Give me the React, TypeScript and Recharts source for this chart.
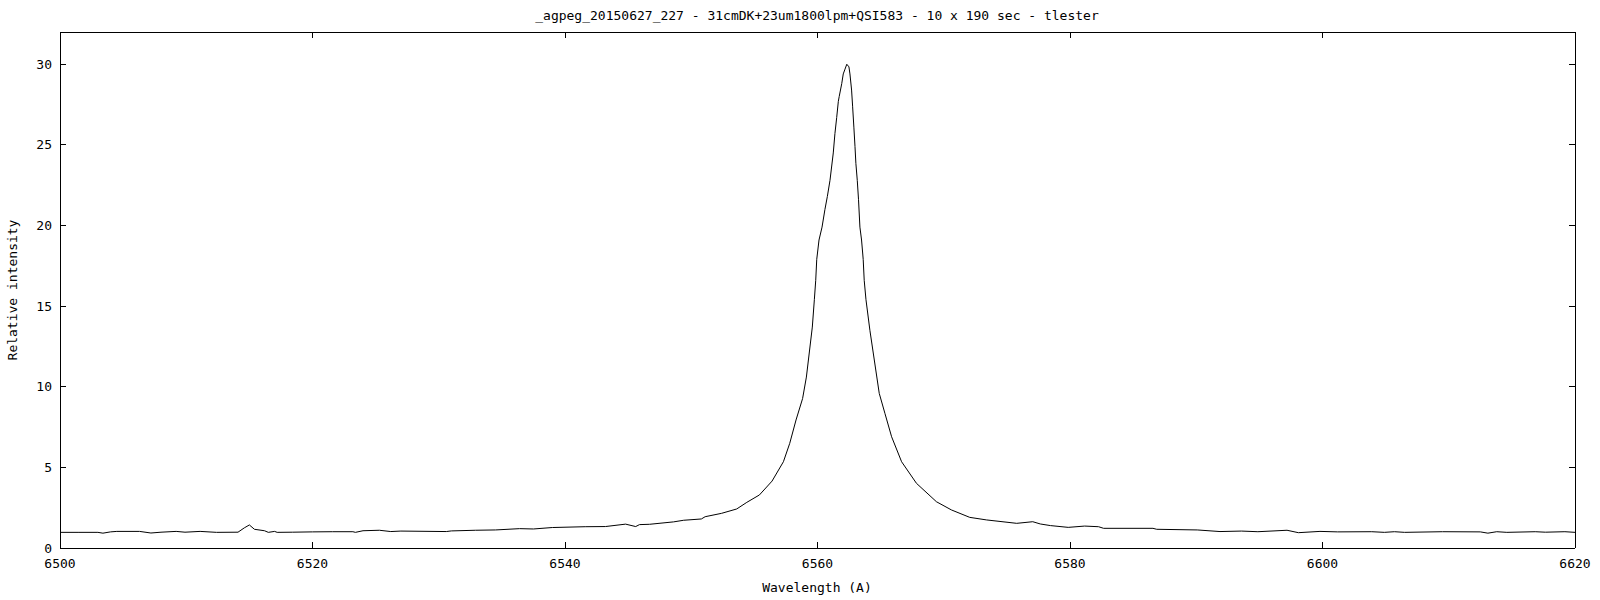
import React from 'react';
import { LineChart, Line, XAxis, YAxis } from 'recharts';

const wavelengths = [
  6500.0, 6501.5, 6503.0, 6503.4, 6504.0, 6504.5, 6506.3, 6507.2, 6508.0, 6509.2,
  6509.9, 6511.1, 6512.4, 6514.1, 6514.6, 6515.0, 6515.4, 6516.2, 6516.5, 6517.0,
  6517.2, 6518.4, 6520.0, 6521.6, 6523.2, 6523.4, 6524.0, 6525.3, 6526.2, 6527.0,
  6530.6, 6531.0, 6532.9, 6534.5, 6536.4, 6537.5, 6539.0, 6541.6, 6543.2, 6544.8,
  6545.6, 6545.9, 6546.7, 6548.6, 6549.4, 6550.8, 6551.1, 6552.4, 6553.6, 6554.4,
  6555.4, 6556.4, 6557.3, 6557.8, 6558.3, 6558.82, 6559.12, 6559.59, 6559.75, 6559.86,
  6559.94, 6560.12, 6560.36, 6560.59, 6560.78, 6560.99, 6561.25, 6561.38, 6561.52, 6561.65,
  6561.72, 6561.92, 6562.04, 6562.18, 6562.32, 6562.49, 6562.57, 6562.7, 6562.78, 6562.88,
  6562.97, 6563.04, 6563.15, 6563.25, 6563.36, 6563.49, 6563.62, 6563.7, 6563.84, 6564.15,
  6564.89, 6565.34, 6565.87, 6566.66, 6567.84, 6569.42, 6570.61, 6572.06, 6573.4, 6575.78,
  6577.05, 6577.65, 6578.45, 6579.86, 6581.16, 6582.26, 6582.66, 6586.57, 6586.87, 6590.08,
  6591.88, 6593.58, 6594.88, 6597.19, 6598.09, 6599.8, 6601.2, 6603.9, 6604.9, 6605.7,
  6606.5, 6609.5, 6612.5, 6613.1, 6613.8, 6614.6, 6616.85, 6617.65, 6619.2, 6620.0,
];

const intensities = [
  0.97, 0.97, 0.97, 0.92, 1.0, 1.03, 1.03, 0.93, 0.98, 1.03,
  0.98, 1.03, 0.97, 0.98, 1.25, 1.43, 1.16, 1.07, 0.97, 1.03,
  0.97, 0.98, 1.0, 1.01, 1.01, 0.97, 1.07, 1.1, 1.02, 1.05,
  1.02, 1.06, 1.1, 1.12, 1.2, 1.18, 1.27, 1.32, 1.33, 1.48,
  1.33, 1.45, 1.47, 1.62, 1.72, 1.8, 1.94, 2.15, 2.42, 2.83,
  3.29, 4.15, 5.35, 6.49, 7.94, 9.27, 10.6, 13.7, 15.4, 16.6,
  17.9, 19.1, 19.9, 21.0, 21.8, 22.8, 24.5, 25.7, 26.7, 27.7,
  28.0, 28.8, 29.4, 29.7, 30.0, 29.84, 29.4, 28.4, 27.4, 26.1,
  24.9, 23.85, 22.8, 21.6, 19.9, 19.1, 17.9, 16.6, 15.4, 13.5,
  9.59, 8.35, 6.9, 5.35, 4.01, 2.87, 2.36, 1.9, 1.74, 1.53,
  1.63, 1.49, 1.39, 1.28, 1.36, 1.32, 1.22, 1.22, 1.16, 1.12,
  1.02, 1.05, 1.01, 1.1, 0.95, 1.03, 1.0, 1.01, 0.97, 1.01,
  0.97, 1.01, 1.0, 0.92, 1.01, 0.97, 1.01, 0.98, 1.01, 0.97,
];

const xTicks = [6500, 6520, 6540, 6560, 6580, 6600, 6620];
const yTicks = [0, 5, 10, 15, 20, 25, 30];

const titleText = '_agpeg_20150627_227 - 31cmDK+23um1800lpm+QSI583 - 10 x 190 sec - tlester';
const xLabel = 'Wavelength (A)';
const yLabel = 'Relative intensity';

const data = wavelengths.map((w, i) => ({ w, v: intensities[i] }));

const FONT = '"DejaVu Sans Mono", monospace';
const TICK_LEN = 6;
const GAP = 8; // recharts default tickSize (6) + tickMargin (2)

const BottomTick = (props: any) => {
  const { x, y, payload } = props;
  const axisY = y - GAP;
  return (
    <g>
      <line x1={x} x2={x} y1={axisY} y2={axisY - TICK_LEN} stroke="#000" shapeRendering="crispEdges" />
      <text x={x} y={axisY + 20} textAnchor="middle" fontSize={13} fontFamily={FONT} fill="#000">
        {payload.value}
      </text>
    </g>
  );
};

const TopTick = (props: any) => {
  const { x, y } = props;
  const axisY = y + GAP;
  return <line x1={x} x2={x} y1={axisY} y2={axisY + TICK_LEN} stroke="#000" shapeRendering="crispEdges" />;
};

const LeftTick = (props: any) => {
  const { x, y, payload } = props;
  const axisX = x + GAP;
  return (
    <g>
      <line x1={axisX} x2={axisX + TICK_LEN} y1={y} y2={y} stroke="#000" shapeRendering="crispEdges" />
      <text x={axisX - 8} y={y + 4.5} textAnchor="end" fontSize={13} fontFamily={FONT} fill="#000">
        {payload.value}
      </text>
    </g>
  );
};

const RightTick = (props: any) => {
  const { x, y } = props;
  const axisX = x - GAP;
  return <line x1={axisX} x2={axisX - TICK_LEN} y1={y} y2={y} stroke="#000" shapeRendering="crispEdges" />;
};

const axisLine = { stroke: '#000', shapeRendering: 'crispEdges' } as any;

export default function App() {
  return (
    <div style={{ position: 'absolute', left: 0, top: 0, width: 1600, height: 600, background: '#fff' }}>
      <LineChart width={1600} height={600} data={data} margin={{ top: 31, right: 24, bottom: 0, left: 0 }}>
        <XAxis
          xAxisId="b"
          dataKey="w"
          type="number"
          domain={[6500, 6620]}
          ticks={xTicks}
          orientation="bottom"
          height={52}
          tickLine={false}
          axisLine={axisLine}
          tick={<BottomTick />}
          interval={0}
          allowDataOverflow
        />
        <XAxis
          xAxisId="t"
          dataKey="w"
          type="number"
          domain={[6500, 6620]}
          ticks={xTicks}
          orientation="top"
          height={1}
          tickLine={false}
          axisLine={axisLine}
          tick={<TopTick />}
          interval={0}
          allowDataOverflow
        />
        <YAxis
          yAxisId="l"
          type="number"
          domain={[0, 32]}
          ticks={yTicks}
          orientation="left"
          width={60}
          tickLine={false}
          axisLine={axisLine}
          tick={<LeftTick />}
          interval={0}
          allowDataOverflow
        />
        <YAxis
          yAxisId="r"
          type="number"
          domain={[0, 32]}
          ticks={yTicks}
          orientation="right"
          width={1}
          tickLine={false}
          axisLine={axisLine}
          tick={<RightTick />}
          interval={0}
          allowDataOverflow
        />
        <Line
          xAxisId="b"
          yAxisId="l"
          dataKey="v"
          type="linear"
          stroke="#000"
          strokeWidth={1}
          dot={false}
          activeDot={false}
          isAnimationActive={false}
        />
      </LineChart>
      <svg
        width={1600}
        height={600}
        style={{ position: 'absolute', left: 0, top: 0, pointerEvents: 'none' }}
      >
        <text x={817} y={20} textAnchor="middle" fontSize={13} fontFamily={FONT} fill="#000">
          {titleText}
        </text>
        <text x={817} y={592} textAnchor="middle" fontSize={13} fontFamily={FONT} fill="#000">
          {xLabel}
        </text>
        <text
          x={0}
          y={0}
          transform="translate(17,290) rotate(-90)"
          textAnchor="middle"
          fontSize={13}
          fontFamily={FONT}
          fill="#000"
        >
          {yLabel}
        </text>
      </svg>
    </div>
  );
}
